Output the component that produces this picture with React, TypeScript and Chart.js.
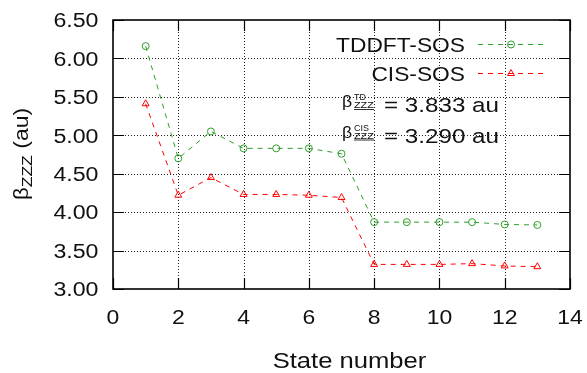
import React, { useEffect, useRef } from "react";
import { Chart, registerables } from "chart.js";

Chart.register(...registerables);

const states = [1, 2, 3, 4, 5, 6, 7, 8, 9, 10, 11, 12, 13];
const tddftSos = [6.16, 4.70, 5.05, 4.83, 4.83, 4.83, 4.76, 3.87, 3.87, 3.87, 3.87, 3.84, 3.833];
const cisSos = [5.41, 4.22, 4.45, 4.23, 4.23, 4.22, 4.19, 3.32, 3.32, 3.32, 3.33, 3.30, 3.29];
const seriesNames = ["TDDFT-SOS", "CIS-SOS"];
const avgSups = ["TD", "CIS"];
const avgValues = ["= 3.833 au", "= 3.290 au"];
const xTitle = "State number";
const yTitleParts = ["β", "ZZZ", " (au)"];

const GREEN = "#2e9e2a";
const RED = "#ff0000";
const FONT = "'Liberation Sans', Arial, Helvetica, sans-serif";
const INK = "#111";

function stretchText(
  ctx: CanvasRenderingContext2D,
  text: string,
  x: number,
  y: number,
  size: number,
  sx: number,
  align: "left" | "right" | "center"
) {
  ctx.save();
  ctx.font = `${size}px ${FONT}`;
  ctx.textBaseline = "alphabetic";
  ctx.textAlign = "left";
  const w = ctx.measureText(text).width * sx;
  let left = x;
  if (align === "right") left = x - w;
  if (align === "center") left = x - w / 2;
  ctx.translate(left, y);
  ctx.scale(sx, 1);
  ctx.fillText(text, 0, 0);
  ctx.restore();
  return w;
}

function drawMarker(ctx: CanvasRenderingContext2D, kind: string, x: number, y: number, color: string) {
  ctx.save();
  ctx.setLineDash([]);
  ctx.strokeStyle = color;
  ctx.lineWidth = 1;
  ctx.beginPath();
  if (kind === "circle") {
    ctx.arc(x, y, 3.5, 0, Math.PI * 2);
  } else {
    const r = 4;
    ctx.moveTo(x, y - r);
    ctx.lineTo(x + r * 0.87, y + r * 0.5);
    ctx.lineTo(x - r * 0.87, y + r * 0.5);
    ctx.closePath();
  }
  ctx.stroke();
  ctx.restore();
}

const framePlugin = {
  id: "framePlugin",
  beforeDatasetsDraw(chart: any) {
    const { ctx, chartArea: a, scales } = chart;
    const xs = scales.x;
    const ys = scales.y;
    ctx.save();
    ctx.strokeStyle = "#222";
    ctx.lineWidth = 1;
    ctx.setLineDash([1, 2]);
    const xt = xs.ticks.map((t: any) => t.value);
    const yt = ys.ticks.map((t: any) => t.value);
    xt.slice(1, -1).forEach((v: number) => {
      const px = Math.round(xs.getPixelForValue(v)) + 0.5;
      ctx.beginPath();
      ctx.moveTo(px, a.top);
      ctx.lineTo(px, a.bottom);
      ctx.stroke();
    });
    yt.slice(1, -1).forEach((v: number) => {
      const py = Math.round(ys.getPixelForValue(v)) + 0.5;
      ctx.beginPath();
      ctx.moveTo(a.left, py);
      ctx.lineTo(a.right, py);
      ctx.stroke();
    });
    ctx.setLineDash([]);
    ctx.strokeStyle = "#000";
    ctx.lineWidth = 1.2;
    const L = 11;
    xt.forEach((v: number) => {
      const px = Math.round(xs.getPixelForValue(v)) + 0.5;
      ctx.beginPath();
      ctx.moveTo(px, a.bottom);
      ctx.lineTo(px, a.bottom - L);
      ctx.moveTo(px, a.top);
      ctx.lineTo(px, a.top + L);
      ctx.stroke();
    });
    yt.forEach((v: number) => {
      const py = Math.round(ys.getPixelForValue(v)) + 0.5;
      ctx.beginPath();
      ctx.moveTo(a.left, py);
      ctx.lineTo(a.left + L, py);
      ctx.moveTo(a.right, py);
      ctx.lineTo(a.right - L, py);
      ctx.stroke();
    });
    ctx.lineWidth = 1.6;
    ctx.strokeRect(a.left, a.top, a.right - a.left, a.bottom - a.top);

    // tick labels
    ctx.fillStyle = INK;
    xs.ticks.forEach((t: any) => {
      const px = xs.getPixelForValue(t.value);
      stretchText(ctx, String(t.label), px, a.bottom + 35, 20.5, 1.12, "center");
    });
    ys.ticks.forEach((t: any) => {
      const py = ys.getPixelForValue(t.value);
      stretchText(ctx, String(t.label), 98.5, py + 7.3, 20.5, 1.13, "right");
    });
    ctx.restore();
  },
  afterDraw(chart: any) {
    const { ctx } = chart;
    ctx.save();
    ctx.fillStyle = INK;
    // legend
    const legendItems = [
      { name: seriesNames[0], color: GREEN, kind: "circle", y: 44 },
      { name: seriesNames[1], color: RED, kind: "triangle", y: 73 },
    ];
    legendItems.forEach((it) => {
      ctx.fillStyle = INK;
      stretchText(ctx, it.name, 465, it.y + 7.5, 20.5, 1.11, "right");
      ctx.strokeStyle = it.color;
      ctx.lineWidth = 1;
      ctx.setLineDash([5, 5]);
      ctx.beginPath();
      ctx.moveTo(478, it.y + 0.5);
      ctx.lineTo(545, it.y + 0.5);
      ctx.stroke();
      ctx.setLineDash([]);
      drawMarker(ctx, it.kind, 511, it.y + 0.5, it.color);
    });
    // averages annotation
    avgValues.forEach((val, i) => {
      const dy = i * 30.5;
      ctx.fillStyle = INK;
      stretchText(ctx, "β", 342, 107 + dy, 16, 1.1, "left");
      stretchText(ctx, avgSups[i], 354, 100 + dy, 8.5, 1.05, "left");
      stretchText(ctx, "ZZZ", 354, 108 + dy, 9, 1.2, "left");
      ctx.strokeStyle = "#333";
      ctx.lineWidth = 1;
      ctx.beginPath();
      ctx.moveTo(354, 109.5 + dy);
      ctx.lineTo(374, 109.5 + dy);
      ctx.stroke();
      stretchText(ctx, val, 384, 112 + dy, 20.5, 1.18, "left");
    });
    // x title
    ctx.fillStyle = INK;
    stretchText(ctx, xTitle, 349.5, 368, 21.5, 1.19, "center");
    // y title rotated
    ctx.translate(27.5, 200);
    ctx.rotate(-Math.PI / 2);
    let off = 0;
    off += stretchText(ctx, yTitleParts[0], off, 0, 21, 1.05, "left");
    off += stretchText(ctx, yTitleParts[1], off, 4.5, 15.5, 1.13, "left");
    stretchText(ctx, yTitleParts[2], off, 0, 21, 1.1, "left");
    ctx.restore();
  },
};

export default function App() {
  const ref = useRef<HTMLCanvasElement>(null);
  useEffect(() => {
    if (!ref.current) return;
    const mk = (vals: number[]) => states.map((s, i) => ({ x: s, y: vals[i] }));
    const zeroPad = (s: any) => {
      s.paddingLeft = 0;
      s.paddingRight = 0;
      s.paddingTop = 0;
      s.paddingBottom = 0;
    };
    const chart = new Chart(ref.current, {
      type: "line",
      data: {
        datasets: [
          {
            label: seriesNames[0],
            data: mk(tddftSos),
            borderColor: GREEN,
            backgroundColor: "rgba(0,0,0,0)",
            borderWidth: 1,
            borderDash: [5, 5],
            pointStyle: "circle",
            pointRadius: 3.5,
            pointBorderWidth: 1,
            pointBorderColor: GREEN,
            pointBackgroundColor: "rgba(0,0,0,0)",
            tension: 0,
          },
          {
            label: seriesNames[1],
            data: mk(cisSos),
            borderColor: RED,
            backgroundColor: "rgba(0,0,0,0)",
            borderWidth: 1,
            borderDash: [5, 5],
            pointStyle: "triangle",
            pointRadius: 4,
            pointBorderWidth: 1,
            pointBorderColor: RED,
            pointBackgroundColor: "rgba(0,0,0,0)",
            tension: 0,
          },
        ],
      },
      options: {
        animation: false,
        responsive: false,
        devicePixelRatio: 1,
        layout: { padding: { top: 20, right: 17, left: 0, bottom: 0 } },
        plugins: { legend: { display: false }, tooltip: { enabled: false } },
        scales: {
          x: {
            type: "linear",
            min: 0,
            max: 14,
            ticks: { stepSize: 2, display: false, font: { family: FONT, size: 20 } },
            grid: { display: false, drawTicks: false },
            border: { display: false },
            afterFit: (s: any) => {
              s.height = 84;
              zeroPad(s);
            },
          },
          y: {
            type: "linear",
            min: 3,
            max: 6.5,
            ticks: {
              stepSize: 0.5,
              display: false,
              font: { family: FONT, size: 20 },
              callback: (v: any) => Number(v).toFixed(2),
            },
            grid: { display: false, drawTicks: false },
            border: { display: false },
            afterFit: (s: any) => {
              s.width = 113;
              zeroPad(s);
            },
          },
        },
      },
      plugins: [framePlugin],
    });
    return () => chart.destroy();
  }, []);
  return (
    <div style={{ position: "absolute", left: 0, top: 0, width: 587, height: 373, background: "#fff" }}>
      <canvas ref={ref} width={587} height={373} style={{ display: "block" }} />
    </div>
  );
}
